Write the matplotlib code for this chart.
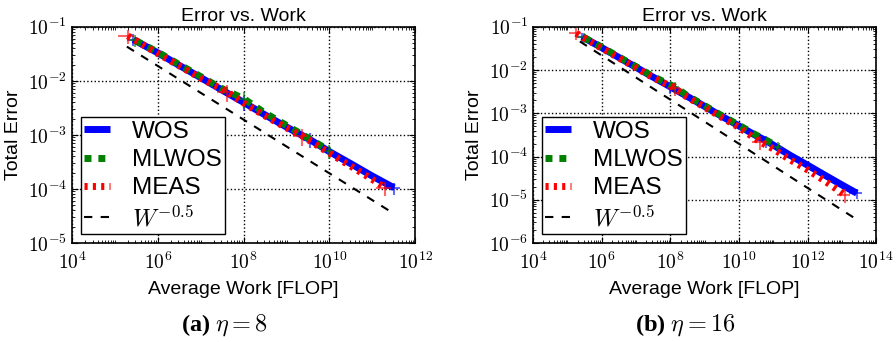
import matplotlib
matplotlib.use("Agg")

import matplotlib.pyplot as plt
from matplotlib.ticker import LogLocator, NullFormatter
import numpy as np

plt.rcParams["font.family"] = ["Liberation Sans", "DejaVu Sans"]
plt.rcParams["mathtext.fontset"] = "cm"
plt.rcParams["xtick.direction"] = "in"
plt.rcParams["ytick.direction"] = "in"
plt.rcParams["xtick.top"] = True
plt.rcParams["ytick.right"] = True

# ---- panel (a): eta = 8 ----
wos_a_x = [2.7e5, 1e6, 3e6, 1e7, 3e7, 1e8, 3e8, 1e9, 3.5e9, 1e10, 3e10, 1e11, 3.2e11]
wos_a_y = [0.058, 0.033, 0.0198, 0.0115, 0.0069, 0.0040, 0.0024, 0.0014, 8.2e-4, 4.9e-4, 3.0e-4, 1.73e-4, 1.05e-4]
wos_a_xrel = [0.3, 0, 0, 0, 0, 0.3, 0, 0, 0.3, 0, 0, 0, 0.4]
wos_a_yrel = [0.25, 0, 0, 0, 0, 0.3, 0, 0, 0.3, 0, 0, 0, 0.25]

mlwos_a_x = [3e5, 1e6, 3e6, 1e7, 3e7, 1e8, 3e8, 1e9, 3e9, 1e10]
mlwos_a_y = [0.056, 0.034, 0.0205, 0.0120, 0.0073, 0.0047, 0.0026, 0.0015, 9.0e-4, 5.1e-4]
mlwos_a_xrel = [0.3, 0, 0, 0, 0, 0.3, 0, 0, 0, 0.3]
mlwos_a_yrel = [0.25, 0, 0, 0, 0, 0.35, 0, 0, 0, 0.3]

meas_a_x = [2e5, 1e6, 3e6, 1e7, 4e7, 1e8, 3e8, 1e9, 2.3e9, 1e10, 3e10, 1e11, 2e11]
meas_a_y = [0.068, 0.032, 0.0195, 0.0112, 0.0063, 0.0039, 0.0023, 0.00135, 9.6e-4, 4.6e-4, 2.7e-4, 1.5e-4, 1.05e-4]
meas_a_xrel = [0.4, 0, 0, 0, 0.4, 0, 0, 0, 0.4, 0, 0, 0, 0.4]
meas_a_yrel = [0.3, 0, 0, 0, 0.35, 0, 0, 0, 0.35, 0, 0, 0, 0.3]

ref_a_x = [1.9e5, 3e11]
ref_a_y = [0.043, 3.6e-5]

# ---- panel (b): eta = 16 ----
wos_b_x = [2.7e5, 1e6, 3e6, 1e7, 3e7, 1e8, 3e8, 1e9, 3e9, 1e10, 3e10, 6.3e10, 3e11, 1e12, 3e12, 1e13, 2.7e13]
wos_b_y = [0.059, 0.033, 0.020, 0.0116, 0.0070, 0.0041, 0.0025, 1.44e-3, 8.7e-4, 5.1e-4, 3.1e-4, 2.3e-4, 1.08e-4, 6.3e-5, 3.8e-5, 2.2e-5, 1.42e-5]
wos_b_xrel = [0.3, 0, 0, 0, 0, 0.3, 0, 0, 0, 0, 0, 0.3, 0, 0, 0, 0, 0.4]
wos_b_yrel = [0.25, 0, 0, 0, 0, 0.3, 0, 0, 0, 0, 0, 0.3, 0, 0, 0, 0, 0.25]

mlwos_b_x = [3e5, 1e6, 3e6, 1e7, 3e7, 1.4e8, 3e8, 1e9, 3e9, 1e10, 3e10, 1.4e11]
mlwos_b_y = [0.057, 0.034, 0.0205, 0.0120, 0.0072, 0.0040, 0.0026, 1.5e-3, 9.0e-4, 5.3e-4, 3.2e-4, 1.7e-4]
mlwos_b_xrel = [0.3, 0, 0, 0, 0, 0.3, 0, 0, 0, 0, 0, 0.3]
mlwos_b_yrel = [0.25, 0, 0, 0, 0, 0.3, 0, 0, 0, 0, 0, 0.3]

meas_b_x = [1.8e5, 1e6, 3e6, 1e7, 3e7, 1.35e8, 3e8, 1e9, 3e9, 1e10, 4e10, 1e11, 3e11, 1e12, 3e12, 1.2e13]
meas_b_y = [0.071, 0.032, 0.0195, 0.0113, 0.0068, 0.0038, 0.0024, 1.38e-3, 8.2e-4, 4.7e-4, 2.2e-4, 1.5e-4, 8.5e-5, 4.9e-5, 2.8e-5, 1.3e-5]
meas_b_xrel = [0.4, 0, 0, 0, 0, 0.4, 0, 0, 0, 0, 0.4, 0, 0, 0, 0, 0.4]
meas_b_yrel = [0.3, 0, 0, 0, 0, 0.35, 0, 0, 0, 0, 0.35, 0, 0, 0, 0, 0.35]

ref_b_x = [2.3e5, 2.4e13]
ref_b_y = [0.046, 3.7e-6]

labels = ["WOS", "MLWOS", "MEAS", r"$W^{-0.5}$"]
xlim_a, ylim_a = (1e4, 1e12), (1e-5, 1e-1)
xlim_b, ylim_b = (1e4, 1e14), (1e-6, 1e-1)
xticks_a = [1e4, 1e6, 1e8, 1e10, 1e12]
xticklabels_a = [r"$10^{4}$", r"$10^{6}$", r"$10^{8}$", r"$10^{10}$", r"$10^{12}$"]
yticks_a = [1e-5, 1e-4, 1e-3, 1e-2, 1e-1]
yticklabels_a = [r"$10^{-5}$", r"$10^{-4}$", r"$10^{-3}$", r"$10^{-2}$", r"$10^{-1}$"]
xticks_b = [1e4, 1e6, 1e8, 1e10, 1e12, 1e14]
xticklabels_b = [r"$10^{4}$", r"$10^{6}$", r"$10^{8}$", r"$10^{10}$", r"$10^{12}$", r"$10^{14}$"]
yticks_b = [1e-6, 1e-5, 1e-4, 1e-3, 1e-2, 1e-1]
yticklabels_b = [r"$10^{-6}$", r"$10^{-5}$", r"$10^{-4}$", r"$10^{-3}$", r"$10^{-2}$", r"$10^{-1}$"]
captions = [r"(a) $\eta = 8$", r"(b) $\eta = 16$"]


def draw_series(ax, x, y, xrel, yrel, color, label, dashes=None):
    x = np.array(x)
    y = np.array(y)
    eb = ax.errorbar(x, y, xerr=np.array(xrel) * x, yerr=np.array(yrel) * y,
                     fmt="none", ecolor=color, elinewidth=1.5, capsize=0)
    for c in eb.lines[2]:
        c.set_alpha(0.6)
    ln, = ax.plot(x, y, color=color, lw=5, label=label, solid_capstyle="butt",
                  dash_capstyle="butt")
    if dashes is not None:
        ln.set_dashes(dashes)
    return ln


def make_panel(ax, data, xlim, ylim, xticks, xticklabels, yticks, yticklabels):
    wos, mlwos, meas, ref = data
    draw_series(ax, *wos, "#0000ff", labels[0])
    draw_series(ax, *mlwos, "#008000", labels[1], dashes=(1.0, 1.0))
    draw_series(ax, *meas, "#ff0000", labels[2], dashes=(0.45, 0.75))
    ax.plot(ref[0], ref[1], "k--", lw=1.5, dashes=(4, 4), label=labels[3])

    ax.set_xscale("log")
    ax.set_yscale("log")
    ax.set_xlim(*xlim)
    ax.set_ylim(*ylim)
    ax.set_xticks(xticks)
    ax.set_xticklabels(xticklabels)
    ax.set_yticks(yticks)
    ax.set_yticklabels(yticklabels)
    ax.xaxis.set_minor_locator(LogLocator(base=10, subs=np.arange(1, 10), numticks=100))
    ax.xaxis.set_minor_formatter(NullFormatter())
    ax.yaxis.set_minor_locator(LogLocator(base=10, subs=np.arange(2, 10), numticks=100))
    ax.yaxis.set_minor_formatter(NullFormatter())
    ax.tick_params(which="major", length=4, width=0.8, labelsize=14)
    ax.tick_params(axis="x", which="major", pad=6)
    ax.tick_params(which="minor", length=2, width=0.6)
    ax.grid(True, which="major", color="black", linestyle=":", lw=1)
    ax.set_title("Error vs. Work", fontsize=14, pad=4)
    ax.set_xlabel("Average Work [FLOP]", fontsize=14, labelpad=6)
    ax.set_ylabel("Total Error", fontsize=14, labelpad=4)
    for s in ax.spines.values():
        s.set_linewidth(1.2)
    leg = ax.legend(loc="lower left", fontsize=17.5, handlelength=1.05, labelspacing=0.25,
                    borderaxespad=0.35, handletextpad=0.9, borderpad=0.15,
                    fancybox=False, framealpha=1, edgecolor="black")
    leg.get_frame().set_linewidth(1.0)


fig = plt.figure(figsize=(8.96, 3.42), dpi=100)
ax_a = fig.add_axes([0.0804, 0.2895, 0.383, 0.632])
ax_b = fig.add_axes([0.595, 0.2895, 0.383, 0.632])

make_panel(ax_a,
           [(wos_a_x, wos_a_y, wos_a_xrel, wos_a_yrel),
            (mlwos_a_x, mlwos_a_y, mlwos_a_xrel, mlwos_a_yrel),
            (meas_a_x, meas_a_y, meas_a_xrel, meas_a_yrel),
            (ref_a_x, ref_a_y)],
           xlim_a, ylim_a, xticks_a, xticklabels_a, yticks_a, yticklabels_a)
make_panel(ax_b,
           [(wos_b_x, wos_b_y, wos_b_xrel, wos_b_yrel),
            (mlwos_b_x, mlwos_b_y, mlwos_b_xrel, mlwos_b_yrel),
            (meas_b_x, meas_b_y, meas_b_xrel, meas_b_yrel),
            (ref_b_x, ref_b_y)],
           xlim_b, ylim_b, xticks_b, xticklabels_b, yticks_b, yticklabels_b)

fig.text(0.25, 0.05, captions[0], ha="center", va="center", fontsize=17.5,
         family="Liberation Serif", weight="bold")
fig.text(0.765, 0.05, captions[1], ha="center", va="center", fontsize=17.5,
         family="Liberation Serif", weight="bold")

fig.savefig("out.png", dpi=100)
